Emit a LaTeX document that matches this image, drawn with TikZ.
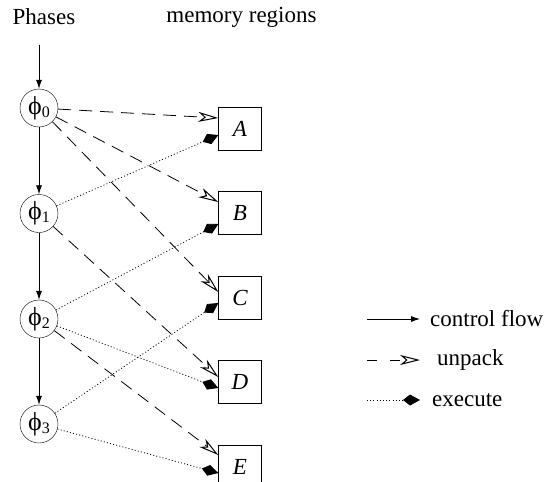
\documentclass[tikz,border=0pt]{standalone}
\usepackage{fontspec}
\setmainfont{Liberation Serif}
\usetikzlibrary{arrows.meta,calc}
\begin{document}
\begin{tikzpicture}[x=1pt,y=-1pt,
  every node/.style={font=\fontsize{23}{27}\selectfont},
  phase/.style={draw,circle,minimum size=38pt,inner sep=0pt},
  region/.style={draw,minimum width=43pt,minimum height=43pt,inner sep=0pt,font=\fontsize{23}{27}\selectfont\itshape},
  flow/.style={line width=0.8pt,-{Latex[length=9pt,width=6pt]}},
  unpack/.style={line width=0.8pt,dash pattern=on 13pt off 8pt,-{Stealth[open,length=20pt,width=10pt,inset=6pt,line width=1pt]}},
  execute/.style={line width=0.8pt,dash pattern=on 1pt off 2.2pt,-{Kite[length=17pt,width=11pt,inset=7pt]}},
  lbl/.style={anchor=west,inner sep=0pt}]
\useasboundingbox (0,0) rectangle (545,481);
\newcommand{\ph}[1]{{\fontsize{26}{26}\selectfont ϕ}{\fontsize{16}{16}\selectfont\raisebox{-3pt}{#1}}}
\node (tph) at (44,17) {Phases};
\node (tmr) at (241.5,17) {memory regions};
\node[phase] (p0) at (39,108) {\ph{0}};
\node[phase] (p1) at (39,213.5) {\ph{1}};
\node[phase] (p2) at (39,319) {\ph{2}};
\node[phase] (p3) at (39,424) {\ph{3}};
\node[region] (A) at (240,128.5) {A};
\node[region] (B) at (240,213) {B};
\node[region] (C) at (240,297.5) {C};
\node[region] (D) at (240,382) {D};
\node[region] (E) at (240,466.5) {E};
\coordinate (start) at (39,45);
\draw[flow] (start) -- (p0);
\draw[flow] (p0) -- (p1);
\draw[flow] (p1) -- (p2);
\draw[flow] (p2) -- (p3);
% unpack targets
\coordinate (Au) at ($(A.west)+(0,-10.5)$);
\coordinate (Bu) at ($(B.west)+(0,-11)$);
\coordinate (Cu) at ($(C.west)+(0,-5.5)$);
\coordinate (Du) at ($(D.west)+(0,-5)$);
\coordinate (Eu) at ($(E.west)+(0,-11.5)$);
% execute targets
\coordinate (Ae) at ($(A.west)+(0,6.5)$);
\coordinate (Be) at ($(B.west)+(0,11)$);
\coordinate (Ce) at ($(C.west)+(0,5.5)$);
\coordinate (De) at ($(D.west)+(0,6)$);
\coordinate (Ee) at ($(E.west)+(0,6.5)$);
\draw[unpack] (p0) -- (Au);
\draw[unpack] (p0) -- (Bu);
\draw[unpack] (p0) -- (Cu);
\draw[unpack] (p1) -- (Du);
\draw[unpack] (p2) -- (Eu);
\draw[execute] (p1) -- (Ae);
\draw[execute] (p2) -- (Be);
\draw[execute] (p3) -- (Ce);
\draw[execute] (p2) -- (De);
\draw[execute] (p3) -- (Ee);
% legend
\coordinate (l1a) at (367,319); \coordinate (l1b) at (420,319);
\coordinate (l2a) at (367,360); \coordinate (l2b) at (420,360);
\coordinate (l3a) at (367,400); \coordinate (l3b) at (420,400);
\draw[flow] (l1a) -- (l1b);
\draw[unpack,dash pattern=on 10pt off 13pt] (l2a) -- (l2b);
\draw[execute] (l3a) -- (l3b);
\node[lbl] (t1) at (430,319) {control flow};
\node[lbl] (t2) at (437,360) {unpack};
\node[lbl] (t3) at (432,400) {execute};
\end{tikzpicture}
\end{document}
